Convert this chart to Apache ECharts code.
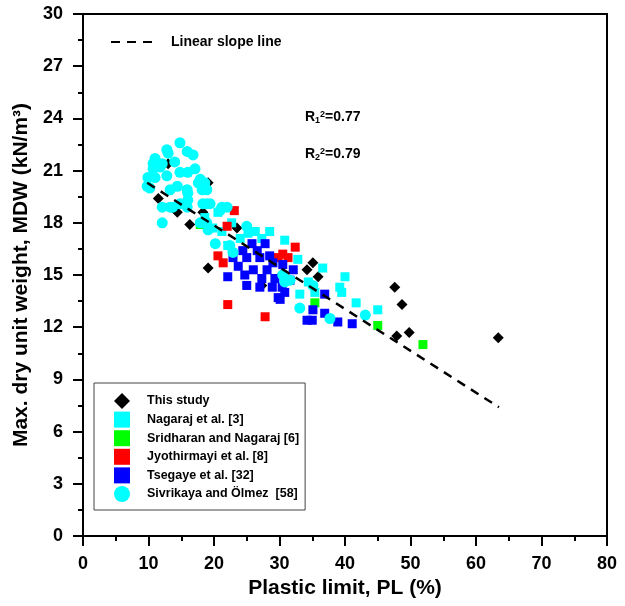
<!DOCTYPE html>
<html>
<head>
<meta charset="utf-8">
<script src="https://cdn.jsdelivr.net/npm/echarts@6/dist/echarts.min.js"></script>
<style>
html,body{margin:0;padding:0;background:#fff;}
#c{width:625px;height:606px;}
</style>
</head>
<body>
<div id="c"></div>
<script>
// ---- data (Plastic limit %, MDW kN/m3) ----
const thisStudy = [
  [13.0,21.4],[19.1,20.3],[11.5,19.4],[14.4,18.6],[18.3,18.6],[16.3,17.9],[23.5,17.7],
  [19.1,15.4],[35.1,15.7],[34.2,15.3],[35.9,14.9],[47.6,14.3],[48.7,13.3],[47.9,11.5],
  [49.8,11.7],[63.4,11.4],[27.3,14.4],[30.5,15.1]
];
const nagaraj = [
  [18.6,18.3],[19.8,17.7],[21.2,17.5],[22.7,18.0],[24.0,17.1],[26.3,17.5],[27.3,17.1],
  [28.5,17.5],[30.8,17.0],[25.2,17.4],[32.8,15.9],[33.1,13.9],[36.6,15.4],[40.0,14.9],
  [39.2,14.3],[39.5,14.0],[41.7,13.4],[45.0,13.0],[20.6,18.6],[22.1,16.7],[34.4,14.6],
  [35.4,14.0]
];
const sridharan = [
  [17.9,17.9],[35.4,13.4],[45.0,12.1],[51.9,11.0]
];
const jyothirmayi = [
  [23.1,18.7],[22.0,17.8],[20.6,16.1],[21.4,15.7],[22.1,13.3],[27.8,12.6],[29.8,16.0],
  [30.5,16.2],[31.3,16.0],[32.4,16.6]
];
const tsegaye = [
  [25.8,16.8],[27.8,16.8],[22.9,16.0],[25.0,16.0],[27.0,16.0],[29.0,15.7],[22.1,14.9],
  [25.0,14.4],[27.0,14.3],[28.9,14.3],[30.1,13.6],[31.6,14.7],[32.1,15.3],[30.8,14.0],
  [36.9,13.9],[35.1,13.0],[34.2,12.4],[35.0,12.4],[36.9,12.8],[38.9,12.3],[41.1,12.2],
  [23.7,15.5],[26.0,15.3],[28.1,15.3],[30.4,14.3],[29.8,13.7],[24.4,16.4],[26.6,16.4],
  [28.5,16.1],[30.5,15.6],[24.7,15.0],[27.3,14.8],[29.3,14.8]
];
const sivrikaya = [
  [14.8,22.6],[12.8,22.2],[13.0,22.0],[15.9,22.1],[16.8,21.9],[10.7,21.4],[14.0,21.5],
  [11.8,21.2],[9.9,20.6],[12.8,20.7],[14.8,20.9],[16.0,20.9],[17.1,21.1],[17.6,20.3],
  [18.6,20.3],[18.9,19.9],[15.9,19.9],[12.1,18.9],[13.3,18.9],[12.1,18.0],[15.9,18.9],
  [16.0,19.3],[9.8,20.1],[20.9,18.7],[22.0,18.9],[18.3,19.1],[25.0,17.8],[11.0,21.7],
  [12.1,21.4],[10.7,21.1],[11.0,20.6],[10.2,20.0],[13.3,19.9],[14.4,20.1],[17.9,20.5],
  [18.2,19.9],[18.9,19.1],[14.8,19.1],[17.9,18.0],[18.9,18.0],[13.7,18.9],[16.0,19.7],
  [19.4,19.1],[21.2,18.9],[19.1,17.6],[22.4,16.7],[30.5,15.0],[31.6,14.7],[20.2,16.8],
  [22.9,16.3],[30.8,14.6],[33.1,13.1],[43.1,12.7],[37.7,12.5],[35.1,14.4]
];
const slopeLine = [[9.8,20.3],[63.5,7.4]];
const xTicks = {min:0, max:80, interval:10};
const yTicks = {min:0, max:30, interval:3};
const r2Labels = [['1','0.77'],['2','0.79']];

const FONT = '"Liberation Sans", Arial, sans-serif';
const chart = echarts.init(document.getElementById('c'));

function scatter(name, data, symbol, size, color){
  return {name, type:'scatter', data, symbol, symbolSize:size,
    itemStyle:{color, opacity:1}, emphasis:{disabled:true}};
}

const rich = {
  r:{fontFamily:FONT, fontWeight:'bold', fontSize:14, color:'#000', lineHeight:20},
  sub:{fontFamily:FONT, fontWeight:'bold', fontSize:9, color:'#000', lineHeight:20, verticalAlign:'bottom', padding:[0,0,2,0]},
  sup:{fontFamily:FONT, fontWeight:'bold', fontSize:9, color:'#000', lineHeight:20, verticalAlign:'top', padding:[3,0,0,0]}
};

chart.setOption({
  animation:false,
  backgroundColor:'#fff',
  grid:{left:83, right:18, top:14, bottom:70, show:true, borderColor:'#000', borderWidth:2, containLabel:false},
  xAxis:{
    type:'value', min:xTicks.min, max:xTicks.max, interval:xTicks.interval,
    name:'Plastic limit, PL (%)', nameLocation:'middle', nameGap:39,
    nameTextStyle:{fontFamily:FONT, fontWeight:'bold', fontSize:21, color:'#000'},
    axisLine:{onZero:false, lineStyle:{color:'#000', width:2}},
    axisTick:{length:10, lineStyle:{color:'#000', width:2}},
    minorTick:{show:true, splitNumber:2, length:5, lineStyle:{color:'#000', width:2}},
    axisLabel:{fontFamily:FONT, fontWeight:'bold', fontSize:18, color:'#000', margin:19},
    splitLine:{show:false}
  },
  yAxis:{
    type:'value', min:yTicks.min, max:yTicks.max, interval:yTicks.interval,
    name:'Max. dry unit weight, MDW (kN/m\u00b3)', nameLocation:'middle', nameGap:48,
    nameTextStyle:{fontFamily:FONT, fontWeight:'bold', fontSize:21, color:'#000'},
    axisLine:{onZero:false, lineStyle:{color:'#000', width:2}},
    axisTick:{length:10, lineStyle:{color:'#000', width:2}},
    minorTick:{show:true, splitNumber:2, length:5, lineStyle:{color:'#000', width:2}},
    axisLabel:{fontFamily:FONT, fontWeight:'bold', fontSize:18, color:'#000', margin:20},
    splitLine:{show:false}
  },
  legend:[
    {
      data:['This study','Nagaraj et al. [3]','Sridharan and Nagaraj [6]','Jyothirmayi et al. [8]','Tsegaye et al. [32]','Sivrikaya and \u00d6lmez  [58]'],
      orient:'vertical', left:94, top:383, itemWidth:16, itemHeight:16, itemGap:2.6,
      padding:[10,6,8,20], borderColor:'#444', borderWidth:1, backgroundColor:'#fff',
      textStyle:{fontFamily:FONT, fontWeight:'bold', fontSize:12.5, color:'#000', padding:[0,0,0,12]},
      selectedMode:false
    },
    {
      data:['Linear slope line'], left:110, top:35, itemWidth:45, itemHeight:14,
      padding:0, itemStyle:{opacity:0},
      textStyle:{fontFamily:FONT, fontWeight:'bold', fontSize:14, color:'#000', padding:[0,0,0,10]},
      selectedMode:false
    }
  ],
  graphic:r2Labels.map((r,i)=>({
    type:'text', left:305, top:107+i*37, z:100,
    style:{text:'{r|R}{sub|'+r[0]+'}{sup|2}{r|='+r[1]+'}', rich}
  })),
  series:[
    scatter('This study', thisStudy, 'diamond', 11, '#000'),
    scatter('Nagaraj et al. [3]', nagaraj, 'rect', 9, '#00FFFF'),
    scatter('Sridharan and Nagaraj [6]', sridharan, 'rect', 9, '#00FF00'),
    scatter('Jyothirmayi et al. [8]', jyothirmayi, 'rect', 9, '#FF0000'),
    scatter('Tsegaye et al. [32]', tsegaye, 'rect', 9, '#0000FF'),
    scatter('Sivrikaya and \u00d6lmez  [58]', sivrikaya, 'circle', 11, '#00FFFF'),
    {name:'Linear slope line', type:'line', data:slopeLine, symbol:'none', z:10,
     itemStyle:{color:'#000'},
     lineStyle:{color:'#000', width:2.5, type:[9,7]}, emphasis:{disabled:true}}
  ]
});
</script>
</body>
</html>
